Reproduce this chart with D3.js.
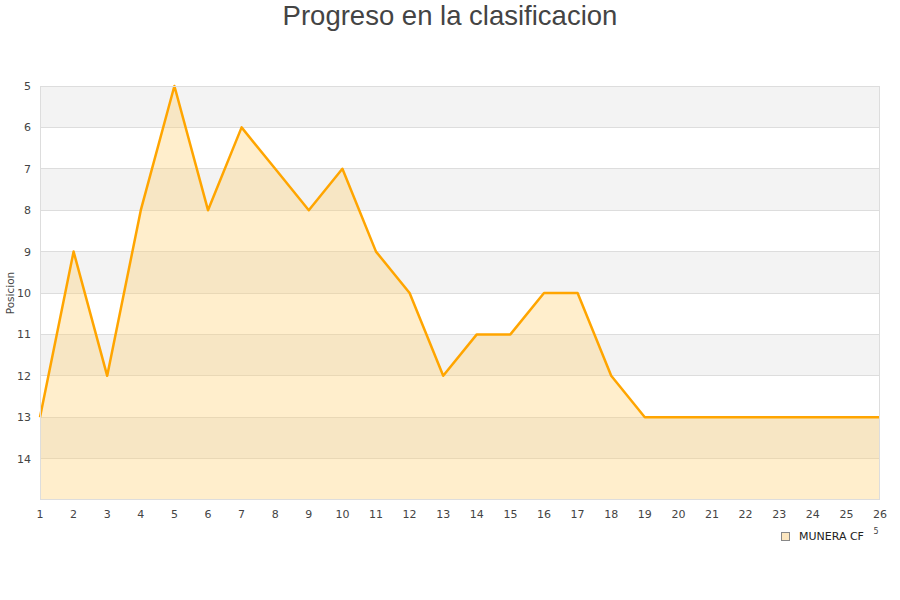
<!DOCTYPE html>
<html><head><meta charset="utf-8">
<script src="https://cdn.jsdelivr.net/npm/d3@7"></script>
<style>body{margin:0;background:#fff}svg{display:block}</style>
</head><body>
<svg id="c" width="900" height="600"></svg>
<script>
const jornadas = [1,2,3,4,5,6,7,8,9,10,11,12,13,14,15,16,17,18,19,20,21,22,23,24,25,26];
const posiciones = [13,9,12,8,5,8,6,7,8,7,9,10,12,11,11,10,10,12,13,13,13,13,13,13,13,13];
const yTicks = [5,6,7,8,9,10,11,12,13,14];
const title = "Progreso en la clasificacion";
const yTitle = "Posicion";
const serieName = "MUNERA CF";

const svg = d3.select("#c");
const L=40,R=880,T=86,B=500;
const x = d3.scaleLinear().domain([1,26]).range([L,R]);
const y = d3.scaleLinear().domain([5,15]).range([T,B]);

const bands = d3.range(5,15);
svg.selectAll("rect.band").data(bands).enter().append("rect")
  .attr("x",L).attr("width",R-L)
  .attr("y",d=>y(d)).attr("height",d=>y(d+1)-y(d))
  .attr("fill",d=>(d%2===1)?"#f3f3f3":"#ffffff");
svg.selectAll("line.g").data(d3.range(6,15)).enter().append("line")
  .attr("x1",L).attr("x2",R).attr("y1",d=>y(d)).attr("y2",d=>y(d))
  .attr("stroke","#dddddd").attr("stroke-width",1).attr("shape-rendering","crispEdges");

const area = d3.area().x((d,i)=>x(jornadas[i])).y0(y(15)).y1(d=>y(d));
svg.append("path").datum(posiciones).attr("d",area)
  .attr("fill","rgba(255,207,110,0.35)");
const line = d3.line().x((d,i)=>x(jornadas[i])).y(d=>y(d));
svg.append("path").datum(posiciones).attr("d",line)
  .attr("fill","none").attr("stroke","#ffa500").attr("stroke-width",2.5).attr("stroke-linejoin","round");

svg.append("rect").attr("x",L+0.5).attr("y",T+0.5).attr("width",R-L-1).attr("height",B-T-1)
  .attr("fill","none").attr("stroke","#dddddd").attr("shape-rendering","crispEdges");

const font = "'DejaVu Sans', sans-serif";
svg.selectAll("text.y").data(yTicks).enter().append("text")
  .attr("x",31).attr("y",d=>y(d)+4).attr("text-anchor","end")
  .attr("font-family",font).attr("font-size",11).attr("fill","#444").text(d=>d);
svg.selectAll("text.x").data(jornadas).enter().append("text")
  .attr("x",d=>x(d)).attr("y",518).attr("text-anchor","middle")
  .attr("font-family",font).attr("font-size",11).attr("fill","#444").text(d=>d);

svg.append("text").attr("x",450).attr("y",25).attr("text-anchor","middle")
  .attr("font-family","'Liberation Sans', Arial, sans-serif").attr("font-size",27.5).attr("fill","#444").text(title);
svg.append("text").attr("transform","translate(14,293) rotate(-90)").attr("text-anchor","middle")
  .attr("font-family",font).attr("font-size",10.5).attr("fill","#444").text(yTitle);

svg.append("rect").attr("x",781.5).attr("y",532.5).attr("width",8).attr("height",8)
  .attr("fill","#fde7c0").attr("stroke","#888").attr("stroke-width",1);
svg.append("text").attr("x",799).attr("y",540).attr("font-family",font).attr("font-size",11)
  .attr("fill","#222").text(serieName);
svg.append("text").attr("x",876).attr("y",534).attr("text-anchor","middle").attr("font-family",font).attr("font-size",8)
  .attr("fill","#444").text("5");
</script>
</body></html>
